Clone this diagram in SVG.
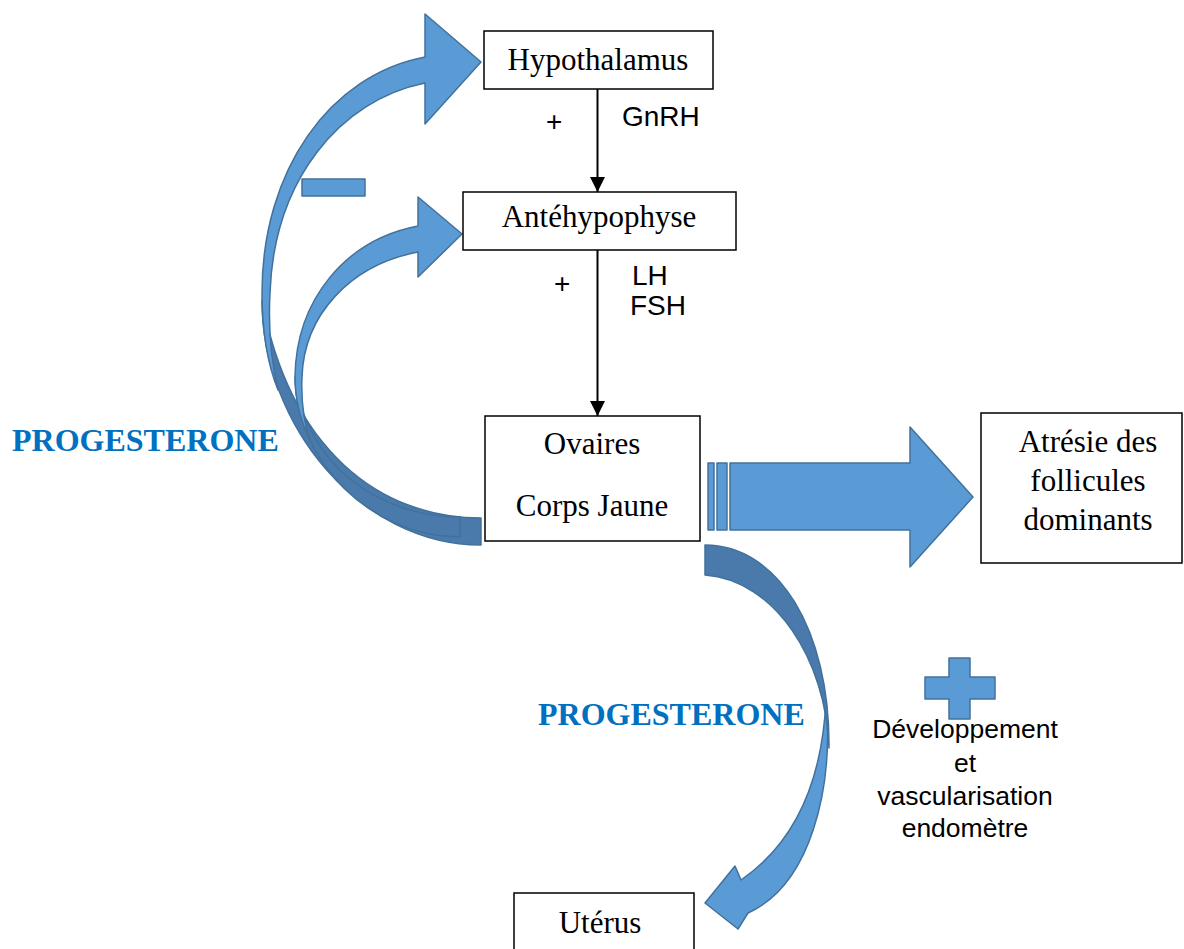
<svg xmlns="http://www.w3.org/2000/svg" width="1184" height="949" viewBox="0 0 1184 949">
  <style>
    .box { fill: #ffffff; stroke: #000000; stroke-width: 1.5; }
    .lbl { font-family: "Liberation Serif", "Times New Roman", serif; font-size: 31px; fill: #000000; text-anchor: middle; }
    .hor { font-family: "Liberation Sans", Arial, sans-serif; font-size: 28px; fill: #000000; }
    .note { font-family: "Liberation Sans", Arial, sans-serif; font-size: 26.5px; fill: #000000; text-anchor: middle; }
    .prog { font-family: "Liberation Serif", "Times New Roman", serif; font-size: 32px; font-weight: bold; fill: #0070c0; }
    .face { fill: #5b9bd5; stroke: #41719c; stroke-width: 1.5; stroke-linejoin: round; }
    .back { fill: #4a7aab; stroke: #41719c; stroke-width: 1.5; stroke-linejoin: round; }
    .link { stroke: #000000; stroke-width: 2; fill: none; }
  </style>
  <defs>
    <marker id="arr" viewBox="0 0 10 10" refX="10" refY="5" markerWidth="7.5" markerHeight="7.5" markerUnits="strokeWidth" orient="auto">
      <path d="M0 0 L10 5 L0 10 Z" fill="#000000"/>
    </marker>
  </defs>

  <!-- feedback arrows and effect arrows -->
  <g id="connectors">
    <line class="link" x1="597.5" y1="89" x2="597.5" y2="192" marker-end="url(#arr)"/>
    <line class="link" x1="597.5" y1="250" x2="597.5" y2="416" marker-end="url(#arr)"/>

    <!-- curved arrow: ovaries to hypothalamus -->
    <path class="back" d="M262 300 C262 425 360 545 481 545 L481 518 C380 518 290 450 262 300 Z"/>
    <path class="face" d="M425 57 L425 14 L481 62 L425 124 L425 83 C340 100 274 180 270 293 C268 330 271 360 278 390 C266 360 262 330 262 293 C262 170 330 75 425 57 Z"/>

    <!-- curved arrow: ovaries to anterior pituitary -->
    <path class="back" d="M295 377 C296 460 370 537 460 537 L460 517 C380 517 305 465 295 377 Z"/>
    <path class="face" d="M418 226 L418 197 L462 234 L418 277 L418 252 C350 265 304 315 302 377 C301 400 303 420 310 440 C300 420 295 400 295 377 C296 300 345 240 418 226 Z"/>

    <!-- straight striped arrow: ovaries to follicles -->
    <rect class="face" x="708" y="463" width="6" height="67"/>
    <rect class="face" x="717" y="463" width="10" height="67"/>
    <path class="face" d="M730 463 L910 463 L910 427 L973 497 L910 567 L910 530 L730 530 Z"/>

    <!-- curved arrow: ovaries to uterus -->
    <path class="face" d="M705 903 L735 866 L741 880 C792 845 822 785 826 700 C834 790 810 885 748 913 L738 929 Z"/>
    <path class="back" d="M705 545 C778 545 830 630 829 748 C826 660 775 580 705 575 Z"/>
  </g>

  <g id="minus">
    <rect class="face" x="302" y="179" width="63" height="17"/>
  </g>
  <g id="plus">
    <path class="face" d="M949 658 H970 V677 H995 V699 H970 V719 H949 V699 H925 V677 H949 Z"/>
  </g>

  <g id="hypothalamus">
    <rect class="box" x="484" y="31" width="229" height="58"/>
    <text class="lbl" x="598" y="70">Hypothalamus</text>
  </g>
  <g id="antehypophyse">
    <rect class="box" x="463" y="192" width="273" height="58"/>
    <text class="lbl" x="599" y="227">Antéhypophyse</text>
  </g>
  <g id="ovaires">
    <rect class="box" x="485" y="416" width="215" height="125"/>
    <text class="lbl" x="592" y="454">Ovaires</text>
    <text class="lbl" x="592" y="516">Corps Jaune</text>
  </g>
  <g id="atresie">
    <rect class="box" x="981" y="413" width="201" height="150"/>
    <text class="lbl" x="1088" y="452">Atrésie des</text>
    <text class="lbl" x="1088" y="491">follicules</text>
    <text class="lbl" x="1088" y="530">dominants</text>
  </g>
  <g id="uterus">
    <rect class="box" x="514" y="893" width="180" height="70"/>
    <text class="lbl" x="600" y="933">Utérus</text>
  </g>

  <g id="labels">
    <text class="hor" x="546" y="131">+</text>
    <text class="hor" x="622" y="126">GnRH</text>
    <text class="hor" x="554" y="293">+</text>
    <text class="hor" x="632" y="285">LH</text>
    <text class="hor" x="630" y="315">FSH</text>
    <text class="prog" x="12" y="451">PROGESTERONE</text>
    <text class="prog" x="538" y="725">PROGESTERONE</text>
    <text class="note" x="965" y="738">Développement</text>
    <text class="note" x="965" y="772">et</text>
    <text class="note" x="965" y="805">vascularisation</text>
    <text class="note" x="965" y="837">endomètre</text>
  </g>
</svg>
